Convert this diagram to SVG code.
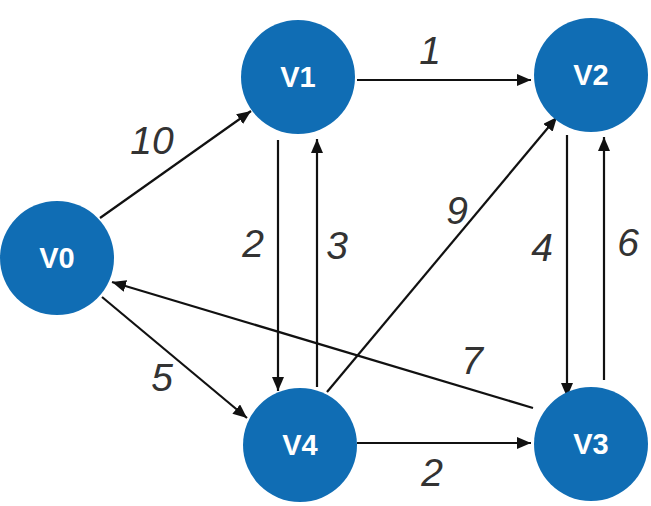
<svg xmlns="http://www.w3.org/2000/svg" width="651" height="506" viewBox="0 0 651 506">
<defs>
<marker id="ah" viewBox="0 0 14 12" refX="14" refY="6" markerWidth="14" markerHeight="12" markerUnits="userSpaceOnUse" orient="auto">
<path d="M0,0 L14,6 L0,12 Z" fill="#111"/>
</marker>
<style>
.n{fill:#106db4}
.nl{font-family:"Liberation Sans",Arial,sans-serif;font-size:29px;font-weight:bold;fill:#fff;text-anchor:middle}
.e{stroke:#111;stroke-width:2.2;fill:none;marker-end:url(#ah)}
.el{font-family:"Liberation Sans",Arial,sans-serif;font-size:39px;font-style:italic;fill:#333;text-anchor:middle}
</style>
</defs>
<rect width="651" height="506" fill="#fff"/>
<g id="connectors">
<line class="e" x1="100" y1="218" x2="251" y2="111"/>
<line class="e" x1="102" y1="297" x2="247" y2="418"/>
<line class="e" x1="533" y1="408" x2="112" y2="282"/>
<line class="e" x1="357" y1="80" x2="531" y2="80"/>
<line class="e" x1="278" y1="140" x2="278" y2="391"/>
<line class="e" x1="317" y1="387" x2="317" y2="139"/>
<line class="e" x1="327" y1="392" x2="557" y2="117"/>
<line class="e" x1="567" y1="135" x2="567" y2="397"/>
<line class="e" x1="604" y1="380" x2="604" y2="137"/>
<line class="e" x1="357" y1="443" x2="531" y2="443"/>
<text class="el" x="152" y="154">10</text>
<text class="el" x="162" y="391">5</text>
<text class="el" x="472" y="374">7</text>
<text class="el" x="430" y="64">1</text>
<text class="el" x="253" y="257">2</text>
<text class="el" x="337" y="259">3</text>
<text class="el" x="457" y="224">9</text>
<text class="el" x="542" y="261">4</text>
<text class="el" x="628" y="256">6</text>
<text class="el" x="432" y="486">2</text>
</g>
<g id="V0"><circle class="n" cx="57" cy="258" r="57"/><text class="nl" x="57" y="268">V0</text></g>
<g id="V1"><circle class="n" cx="298" cy="77" r="57"/><text class="nl" x="298" y="87">V1</text></g>
<g id="V2"><circle class="n" cx="591" cy="75" r="57"/><text class="nl" x="591" y="85">V2</text></g>
<g id="V4"><circle class="n" cx="300" cy="445" r="57"/><text class="nl" x="300" y="455">V4</text></g>
<g id="V3"><circle class="n" cx="591" cy="444" r="57"/><text class="nl" x="591" y="454">V3</text></g>
</svg>
